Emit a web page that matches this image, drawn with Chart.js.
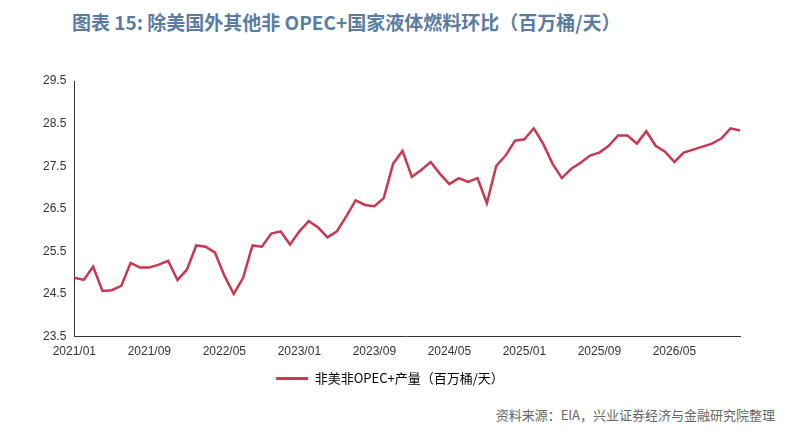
<!DOCTYPE html>
<html><head><meta charset="utf-8">
<script src="https://cdn.jsdelivr.net/npm/chart.js@4/dist/chart.umd.min.js"></script>
<style>
body{margin:0;width:793px;height:436px;background:#fff;font-family:"Noto Sans CJK SC",sans-serif;position:relative;overflow:hidden}
#t{position:absolute;left:72px;top:8px;font-size:19px;font-weight:bold;color:#5a7ca3}
#c{position:absolute;left:0;top:55px;width:760px;height:340px}
#s{position:absolute;right:18px;top:405px;font-size:13px;color:#666}
</style></head><body>
<div id="t">图表 15: 除美国外其他非 OPEC+国家液体燃料环比（百万桶/天）</div>
<div id="c"><canvas id="cv"></canvas></div>
<div id="s">资料来源：EIA，兴业证券经济与金融研究院整理</div>
<script>
const seriesName="非美非OPEC+产量（百万桶/天）";
const values=[24.88,24.83,25.14,24.57,24.59,24.69,25.23,25.12,25.12,25.19,25.28,24.83,25.07,25.64,25.61,25.47,24.93,24.50,24.88,25.64,25.61,25.92,25.97,25.66,25.97,26.21,26.06,25.83,25.97,26.32,26.70,26.59,26.56,26.75,27.56,27.86,27.25,27.41,27.60,27.32,27.08,27.22,27.13,27.22,26.63,27.51,27.75,28.10,28.13,28.39,28.03,27.56,27.22,27.44,27.58,27.75,27.82,27.98,28.22,28.22,28.03,28.32,27.98,27.84,27.60,27.82,27.89,27.96,28.03,28.15,28.39,28.34];
const labels=[];
for(let i=0;i<values.length;i++){const y=2021+Math.floor(i/12),m=i%12+1;labels.push(y+"/"+String(m).padStart(2,"0"));}
new Chart(document.getElementById("cv"),{type:"line",
data:{labels,datasets:[{label:seriesName,data:values,borderColor:"#c8384f",borderWidth:2.5,pointRadius:0,tension:0}]},
options:{responsive:true,maintainAspectRatio:false,animation:false,
layout:{padding:{left:40,right:20,top:26}},
plugins:{legend:{position:"bottom",labels:{boxWidth:32,boxHeight:0,color:"#333",font:{size:13,family:"Noto Sans CJK SC"},generateLabels:c=>[{text:seriesName,strokeStyle:"#c8384f",fillStyle:"#c8384f",lineWidth:3}]}},tooltip:{enabled:false}},
scales:{x:{offset:false,grid:{display:false,drawTicks:true,tickLength:5},border:{color:"#333"},
ticks:{autoSkip:false,maxRotation:0,color:"#333",font:{size:12},callback:(v,i)=>i%8===0?labels[i]:""}},
y:{min:23.5,max:29.5,grid:{display:false,tickLength:5,drawTicks:true},border:{color:"#333"},
ticks:{stepSize:1,color:"#333",font:{size:12},callback:v=>v.toFixed(1)}}}}});
</script></body></html>
